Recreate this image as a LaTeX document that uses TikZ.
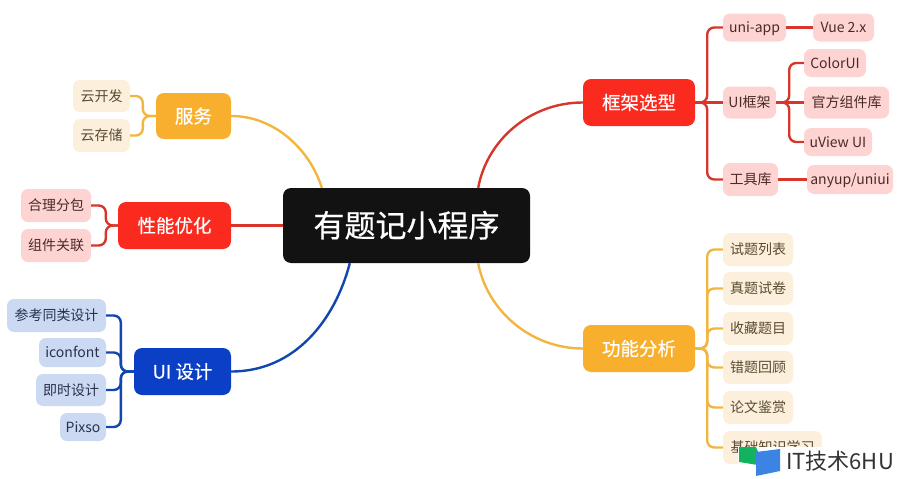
\documentclass[tikz,border=0pt]{standalone}
\usepackage{fontspec}
\setmainfont{Noto Sans CJK SC}
\newfontfamily\heavyfont[FakeBold=0.5]{Noto Sans CJK SC}
\usepackage{tikz}
\usetikzlibrary{positioning}
\definecolor{redmain}{HTML}{FB2A1E}
\definecolor{redline}{HTML}{D8352B}
\definecolor{redleaf}{HTML}{FDD4D1}
\definecolor{redtext}{HTML}{4A2A29}
\definecolor{ormain}{HTML}{F7AF2D}
\definecolor{orline}{HTML}{F2B640}
\definecolor{orleaf}{HTML}{FCF0DC}
\definecolor{ortext}{HTML}{5A4A30}
\definecolor{blmain}{HTML}{0A3FC6}
\definecolor{blline}{HTML}{1046AE}
\definecolor{blleaf}{HTML}{CCD9F3}
\definecolor{bltext}{HTML}{28324A}
\definecolor{markgreen}{HTML}{12B25E}
\definecolor{markblue}{HTML}{3B84E4}
\tikzset{
	box/.style 2 args={minimum width=#1pt,minimum height=#2pt,inner sep=0pt},
	rootbox/.style={fill=black!93,text=white,rounded corners=8pt,text height=27pt,text depth=4pt,font=\heavyfont\fontsize{31}{34}\selectfont},
	mainbox/.style={fill=#1,text=white,rounded corners=8pt,text height=16.3pt,text depth=2.2pt,font=\heavyfont\fontsize{18.5}{21}\selectfont},
	leafbox/.style 2 args={fill=#1,text=#2,rounded corners=7pt,text height=12.3pt,text depth=1.7pt,font=\fontsize{14}{16}\selectfont},
	link/.style={draw=#1,line width=2.4pt,rounded corners=7pt},
	bus/.style={to path={-- ++(#1pt,0) |- (\tikztotarget)}}
}
\begin{document}
\begin{tikzpicture}[x=1pt,y=1pt]
	\useasboundingbox (0,0) rectangle (900,-479);

	% centre
	\node[rootbox,box={247}{75}] (root) at (406.5,-225.5) {有题记小程序};

	% main branches
	\node[mainbox=redmain,box={112}{47}] (frame) at (639,-102.5) {框架选型};
	\node[mainbox=ormain,box={112}{47}] (func) at (639,-348.5) {功能分析};
	\node[mainbox=ormain,box={75}{46}] (serv) at (193.5,-116) {服务};
	\node[mainbox=redmain,box={113}{47}] (perf) at (174.5,-225.5) {性能优化};
	\node[mainbox=blmain,box={97}{47}] (uidesign) at (182.5,-371.5) {UI 设计};

	% framework leaves
	\node[leafbox={redleaf}{redtext},box={63}{28}] (uniapp) at (754.5,-27.5) {uni-app};
	\node[leafbox={redleaf}{redtext},box={61}{28}] (vue) at (843.5,-27.5) {Vue 2.x};
	\node[leafbox={redleaf}{redtext},box={53}{32}] (uiframe) at (749.5,-102.5) {UI框架};
	\node[leafbox={redleaf}{redtext},box={62}{28}] (colorui) at (835,-63) {ColorUI};
	\node[leafbox={redleaf}{redtext},box={85}{32}] (official) at (846.5,-102.5) {官方组件库};
	\node[leafbox={redleaf}{redtext},box={68}{28}] (uview) at (838,-142) {uView UI};
	\node[leafbox={redleaf}{redtext},box={55}{33}] (tools) at (750.5,-179.5) {工具库};
	\node[leafbox={redleaf}{redtext},box={86}{29}] (anyup) at (850,-179.5) {anyup/uniui};

	% function leaves
	\node[leafbox={orleaf}{ortext},box={70}{33}] (fa) at (758,-249.5) {试题列表};
	\node[leafbox={orleaf}{ortext},box={70}{33}] (fb) at (758,-288.5) {真题试卷};
	\node[leafbox={orleaf}{ortext},box={70}{33}] (fc) at (758,-328.5) {收藏题目};
	\node[leafbox={orleaf}{ortext},box={70}{33}] (fd) at (758,-367.5) {错题回顾};
	\node[leafbox={orleaf}{ortext},box={70}{33}] (fe) at (758,-407.5) {论文鉴赏};
	\node[leafbox={orleaf}{ortext},box={99}{33}] (ff) at (772.5,-447.5) {基础知识学习};

	% left leaves
	\node[leafbox={orleaf}{ortext},box={57}{32}] (sa) at (101.5,-96) {云开发};
	\node[leafbox={orleaf}{ortext},box={57}{33}] (sb) at (101.5,-135.5) {云存储};
	\node[leafbox={redleaf}{redtext},box={70}{33}] (pa) at (56,-205.5) {合理分包};
	\node[leafbox={redleaf}{redtext},box={70}{33}] (pb) at (56,-245.5) {组件关联};
	\node[leafbox={blleaf}{bltext},box={99}{33}] (ua) at (56.5,-315.5) {参考同类设计};
	\node[leafbox={blleaf}{bltext},box={67}{29}] (ub) at (72.5,-352.5) {iconfont};
	\node[leafbox={blleaf}{bltext},box={70}{32}] (uc) at (71,-390) {即时设计};
	\node[leafbox={blleaf}{bltext},box={46}{28}] (ud) at (83,-427) {Pixso};

	% links from the centre
	\draw[link=redline] ([xshift=-52pt]root.north east) .. controls (487,-140) and (530,-102.5) .. (frame.west);
	\draw[link=orline] ([xshift=-52pt]root.south east) .. controls (487,-310) and (530,-348.5) .. (func.west);
	\draw[link=orline] ([xshift=39pt]root.north west) .. controls (310,-150) and (275,-116) .. (serv.east);
	\draw[link=redline] (root.west) -- (perf.east);
	\draw[link=blline] ([xshift=67pt]root.south west) .. controls (335,-320) and (295,-371.5) .. (uidesign.east);

	% brackets
	\foreach \leaf in {uniapp,tools}
		\draw[link=redline] (frame.east) to[bus=12] (\leaf.west);
	\draw[link=redline] (frame) -- (uiframe);
	\foreach \leaf in {colorui,uview}
		\draw[link=redline] (uiframe.east) to[bus=13] (\leaf.west);
	\draw[link=redline] (uiframe) -- (official);
	\draw[link=redline] (uniapp) -- (vue);
	\draw[link=redline] (tools) -- (anyup);
	\foreach \leaf in {fa,fb,fc,fd,fe,ff}
		\draw[link=orline] (func.east) to[bus=12] (\leaf.west);
	\foreach \leaf in {sa,sb}
		\draw[link=orline] (serv.west) to[bus=-13] (\leaf.east);
	\foreach \leaf in {pa,pb}
		\draw[link=redline] (perf.west) to[bus=-12] (\leaf.east);
	\foreach \leaf in {ua,ub,uc,ud}
		\draw[link=blline] (uidesign.west) to[bus=-13] (\leaf.east);

	% mark in the corner
	\fill[white] (738,-447) rectangle (900,-479);
	\fill[markgreen] (739,-447) -- (756,-447) -- (764,-466) -- (739,-462) -- cycle;
	\fill[markblue] (756,-452) -- (780,-449) -- (780,-471) -- (756,-476) -- cycle;
	\node[font=\fontsize{22}{24}\selectfont,text=black!80,inner sep=0pt] (mark) at (840,-461) {IT技术6HU};
\end{tikzpicture}
\end{document}
